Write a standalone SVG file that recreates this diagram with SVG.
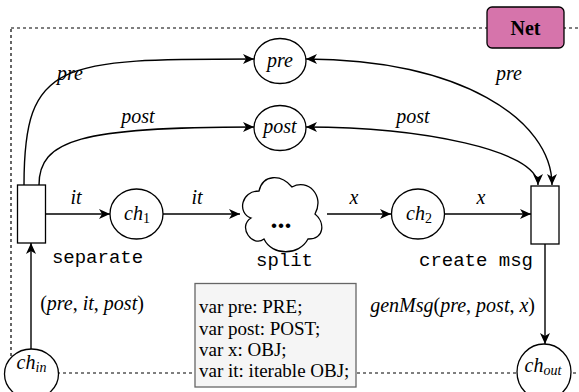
<svg xmlns="http://www.w3.org/2000/svg" width="579" height="392" viewBox="0 0 579 392">
<style>
.place{fill:#fff;stroke:#000;stroke-width:1.3}
.trans{fill:#fff;stroke:#000;stroke-width:1.3}
.edge{fill:none;stroke:#000;stroke-width:1.4}
.lbl{font-family:"Liberation Serif",serif;font-style:italic;font-size:20px;fill:#000}
.up{font-style:normal}
.mono{font-family:"Liberation Mono",monospace;font-size:19px;fill:#000}
.var{font-family:"Liberation Serif",serif;font-size:19px;fill:#000}
.dash{fill:none;stroke:#000;stroke-width:1.2;stroke-dasharray:3 3}
</style>
<defs>
<marker id="arr" markerUnits="userSpaceOnUse" markerWidth="12" markerHeight="10" refX="11" refY="5" orient="auto-start-reverse">
<path d="M0,0 L11,5 L0,10 L3,5 Z" fill="#000"/>
</marker>
</defs>
<rect class="dash" x="11" y="28" width="590" height="345"/>
<g id="net">
<rect x="487" y="7" width="77" height="41" rx="5" fill="#d674ab" stroke="#000" stroke-width="1.3"/>
<text x="525.5" y="34.5" text-anchor="middle" font-family="Liberation Serif, serif" font-weight="bold" font-size="20">Net</text>
</g>
<g id="connectors">
<path class="edge" d="M24,185 C24,60 60,59 254,59" marker-end="url(#arr)"/>
<path class="edge" d="M39,185 C39,140 80,127 254,127" marker-end="url(#arr)"/>
<path class="edge" d="M306,59 C460,59 552,120 552,185" marker-start="url(#arr)" marker-end="url(#arr)"/>
<path class="edge" d="M306,127 C420,127 538,150 538,185" marker-start="url(#arr)" marker-end="url(#arr)"/>
<path class="edge" d="M45,214 L110,214" marker-end="url(#arr)"/>
<path class="edge" d="M163,214 L240,214" marker-end="url(#arr)"/>
<path class="edge" d="M327,214 L391,214" marker-end="url(#arr)"/>
<path class="edge" d="M444,214 L531,214" marker-end="url(#arr)"/>
<path class="edge" d="M31,349 L31,243" marker-end="url(#arr)"/>
<path class="edge" d="M545,244 L545,344" marker-end="url(#arr)"/>
<text class="lbl" x="70" y="80" text-anchor="middle">pre</text>
<text class="lbl" x="138" y="123" text-anchor="middle">post</text>
<text class="lbl" x="509" y="80" text-anchor="middle">pre</text>
<text class="lbl" x="413" y="123" text-anchor="middle">post</text>
<text class="lbl" x="76" y="204" text-anchor="middle">it</text>
<text class="lbl" x="197" y="204" text-anchor="middle">it</text>
<text class="lbl" x="354" y="204" text-anchor="middle">x</text>
<text class="lbl" x="481" y="204" text-anchor="middle">x</text>
<text class="lbl" x="92" y="310" text-anchor="middle" font-size="19"><tspan class="up">(</tspan>pre<tspan class="up">, </tspan>it<tspan class="up">, </tspan>post<tspan class="up">)</tspan></text>
<text class="lbl" x="535" y="312" text-anchor="end" font-size="19.5">genMsg<tspan class="up">(</tspan>pre<tspan class="up">, </tspan>post<tspan class="up">, </tspan>x<tspan class="up">)</tspan></text>
</g>
<g id="pre">
<ellipse class="place" cx="280" cy="61" rx="26" ry="22.5"/>
<text class="lbl" x="280" y="67" text-anchor="middle">pre</text>
</g>
<g id="post">
<ellipse class="place" cx="280" cy="128" rx="26" ry="22.5"/>
<text class="lbl" x="280" y="133" text-anchor="middle">post</text>
</g>
<g id="separate">
<rect class="trans" x="17.5" y="185" width="28" height="58"/>
<text class="mono" x="97.5" y="263" text-anchor="middle">separate</text>
</g>
<g id="ch1">
<ellipse class="place" cx="136.5" cy="214" rx="26.5" ry="25"/>
<text class="lbl" x="137" y="220" text-anchor="middle">ch<tspan class="up" font-size="14" dy="3">1</tspan></text>
</g>
<g id="split">
<path class="place" d="M259,191 C241,191 237,213 251,218 C237,227 253,248 264,239 C272,256 299,256 308,239 C325,239 325,222 315,214 C325,196 308,178 292,187 C281,174 263,174 259,191 Z"/>
<text x="281" y="228" text-anchor="middle" font-family="Liberation Serif, serif" font-weight="bold" font-size="28">...</text>
<text class="mono" x="284.5" y="266" text-anchor="middle">split</text>
</g>
<g id="ch2">
<ellipse class="place" cx="418" cy="214" rx="26.5" ry="25"/>
<text class="lbl" x="419" y="220" text-anchor="middle">ch<tspan class="up" font-size="14" dy="3">2</tspan></text>
</g>
<g id="createmsg">
<rect class="trans" x="531" y="186" width="28" height="58"/>
<text class="mono" x="476" y="266" text-anchor="middle">create msg</text>
</g>
<g id="chin">
<ellipse class="place" cx="31.5" cy="374" rx="27" ry="25"/>
<text class="lbl" x="31.5" y="369" text-anchor="middle">ch<tspan font-size="14" dy="3">in</tspan></text>
</g>
<g id="chout">
<ellipse class="place" cx="544" cy="372" rx="27" ry="28"/>
<text class="lbl" x="543" y="372" text-anchor="middle">ch<tspan font-size="14" dy="3">out</tspan></text>
</g>
<g id="vars">
<rect x="195" y="283.5" width="161" height="103.5" fill="#f5f5f5" stroke="#666" stroke-width="1.3"/>
<text class="var" x="199" y="313">var pre: PRE;</text>
<text class="var" x="199" y="334.5">var post: POST;</text>
<text class="var" x="199" y="356">var x: OBJ;</text>
<text class="var" x="199" y="377">var it: iterable OBJ;</text>
</g>
</svg>
